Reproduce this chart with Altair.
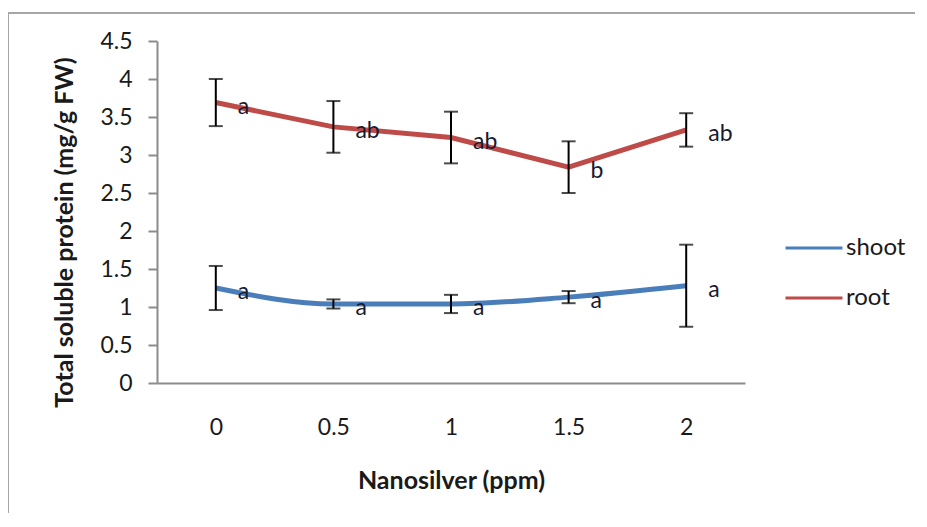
import altair as alt
import pandas as pd

doses = ["0", "0.5", "1", "1.5", "2"]
series = ["shoot", "root"]
shoot_mean = [1.25, 1.04, 1.04, 1.13, 1.28]
shoot_err = [0.29, 0.06, 0.12, 0.08, 0.54]
shoot_letters = ["a", "a", "a", "a", "a"]
root_mean = [3.69, 3.37, 3.23, 2.84, 3.33]
root_err = [0.31, 0.34, 0.34, 0.34, 0.22]
root_letters = ["a", "ab", "ab", "b", "ab"]
y_ticks = [0, 0.5, 1, 1.5, 2, 2.5, 3, 3.5, 4, 4.5]

rows = []
for name, means, errs, lets in [("shoot", shoot_mean, shoot_err, shoot_letters),
                                ("root", root_mean, root_err, root_letters)]:
    for d, m, e, l in zip(doses, means, errs, lets):
        rows.append({"dose": d, "series": name, "mean": m,
                     "lo": round(m - e, 3), "hi": round(m + e, 3), "letter": l})
df = pd.DataFrame(rows)

FONT = "Lato"
TXT = "#1a1a1a"
xenc = alt.X("dose:N", sort=doses, scale=alt.Scale(type="point", padding=0.5),
             axis=alt.Axis(title="Nanosilver (ppm)", labelAngle=0, ticks=False,
                           labelPadding=33, titlePadding=29, domainColor="#8c8c8c",
                           domainWidth=2, labelFontSize=23, titleFontSize=25,
                           labelFont=FONT, titleFont=FONT, titleFontWeight="bold",
                           labelColor=TXT, titleColor=TXT))
yscale = alt.Scale(domain=[0, 4.5], nice=False, zero=True)
yaxis = alt.Axis(title="Total soluble protein (mg/g FW)", values=y_ticks,
                 format="~g", grid=False, tickSize=9, tickColor="#8c8c8c",
                 tickWidth=2, domainColor="#8c8c8c", domainWidth=2,
                 labelOverlap=False, labelPadding=16, labelFontSize=23,
                 titleFontSize=25, titleX=-80, titleY=191,
                 labelFont=FONT, titleFont=FONT,
                 titleFontWeight="bold", labelColor=TXT, titleColor=TXT)
yenc = alt.Y("mean:Q", scale=yscale, axis=yaxis)
ylo = alt.Y("lo:Q", scale=yscale, axis=yaxis)
yhi = alt.Y("hi:Q", scale=yscale, axis=yaxis)
color = alt.Color("series:N", scale=alt.Scale(domain=series, range=["#4a7ebb", "#be4b48"]),
                  legend=alt.Legend(title=None, orient="none", legendX=641, legendY=191,
                                    symbolType="M-2,0H2", symbolSize=812,
                                    symbolStrokeWidth=3, labelOffset=16, rowPadding=22,
                                    labelFontSize=24, labelFont=FONT, labelColor=TXT,
                                    padding=0))

base = alt.Chart(df)
shoot_line = base.transform_filter(alt.datum.series == "shoot").mark_line(
    strokeWidth=5, interpolate="monotone").encode(x=xenc, y=yenc, color=color)
root_line = base.transform_filter(alt.datum.series == "root").mark_line(
    strokeWidth=5).encode(x=xenc, y=yenc, color=color)
bars = base.mark_rule(color="black", strokeWidth=2).encode(x=xenc, y=ylo, y2="hi:Q")
cap_lo = base.mark_tick(color="black", size=14, thickness=2).encode(x=xenc, y=ylo)
cap_hi = base.mark_tick(color="black", size=14, thickness=2).encode(x=xenc, y=yhi)
labels = base.mark_text(align="left", baseline="middle", dx=22, dy=4, fontSize=23,
                        font=FONT, color="#1a1a2e").encode(x=xenc, y=yenc, text="letter:N")

frame_df = pd.DataFrame({"f": [0]})
frame_top = alt.Chart(frame_df).mark_rule(stroke="#a6a6a6", strokeWidth=2).encode(
    x=alt.value(-149), x2=alt.value(758), y=alt.value(-28))
frame_left = alt.Chart(frame_df).mark_rule(stroke="#a6a6a6", strokeWidth=2).encode(
    x=alt.value(-149), y=alt.value(-28), y2=alt.value(472))

chart = alt.layer(shoot_line, root_line, bars, cap_lo, cap_hi, labels,
                  frame_top, frame_left).properties(
    width=588, height=342,
    padding={"left": 149, "top": 33, "right": 170, "bottom": 130},
    autosize=alt.AutoSizeParams(type="none"),
    background="white",
).configure_view(stroke=None)

chart.save("out.html", embed_options={"renderer": "svg", "actions": False})
